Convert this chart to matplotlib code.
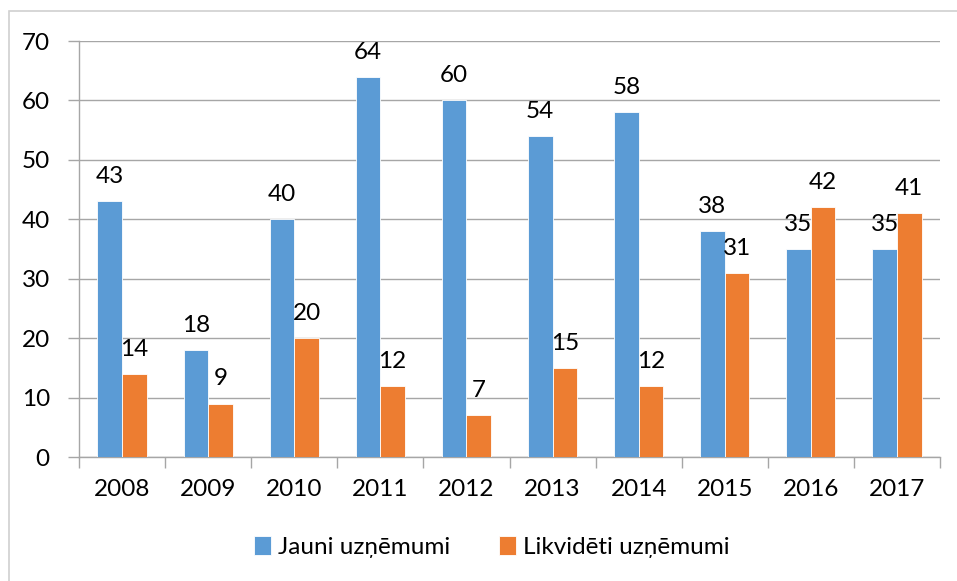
import numpy as np
import matplotlib.pyplot as plt
from matplotlib.patches import Rectangle

# Dati
years = ['2008', '2009', '2010', '2011', '2012', '2013', '2014', '2015', '2016', '2017']
jauni = [43, 18, 40, 64, 60, 54, 58, 38, 35, 35]
likvideti = [14, 9, 20, 12, 7, 15, 12, 31, 42, 41]
series_names = ['Jauni uzņēmumi', 'Likvidēti uzņēmumi']

plt.rcParams['font.family'] = ['Lato', 'DejaVu Sans']
grid_col = '#A6A6A6'
fs = 17.5

fig = plt.figure(figsize=(9.57, 5.81), dpi=100)
ax = fig.add_axes([79 / 957, 1 - 457 / 581, (940 - 79) / 957, (457 - 41) / 581])

# ramis ap visu diagrammu
fig.patches.append(Rectangle((9 / 957, -0.1), 1.2, 1.1 - 11 / 581, transform=fig.transFigure,
                             fill=False, edgecolor='#D0D0D0', linewidth=1.2))

x = np.arange(len(years))
w = 1 / 3.5
b1 = ax.bar(x - w / 2, jauni, w, color='#5B9BD5', edgecolor='white', linewidth=0.6,
            label=series_names[0], zorder=3)
b2 = ax.bar(x + w / 2, likvideti, w, color='#ED7D31', edgecolor='white', linewidth=0.6,
            label=series_names[1], zorder=3)

for bars in (b1, b2):
    for r in bars:
        ax.annotate(f'{int(r.get_height())}', (r.get_x() + r.get_width() / 2, r.get_height()),
                    xytext=(0, 13), textcoords='offset points', ha='center', va='baseline',
                    fontsize=fs, color='black')

ax.set_xlim(-0.5, len(years) - 0.5)
ax.set_ylim(0, 70)
ax.set_yticks(range(0, 71, 10))
ax.yaxis.grid(True, color=grid_col, linewidth=1, zorder=0)

ax.set_xticks(x)
ax.set_xticklabels(years)
ax.set_xticks(np.arange(-0.5, len(years)), minor=True)
ax.tick_params(axis='x', which='major', length=0, pad=16, labelsize=fs)
ax.tick_params(axis='x', which='minor', length=8, color=grid_col, width=1)
ax.tick_params(axis='y', length=8, color=grid_col, width=1, pad=13, labelsize=fs)

for s in ['top', 'right']:
    ax.spines[s].set_visible(False)
for s in ['left', 'bottom']:
    ax.spines[s].set_color(grid_col)
    ax.spines[s].set_linewidth(1)

fig.legend(handles=[b1, b2], loc='center', bbox_to_anchor=(492 / 957, 1 - 547 / 581),
           ncol=2, frameon=False, fontsize=fs, handlelength=0.7, handleheight=0.8,
           handletextpad=0.3, columnspacing=2.0)

fig.savefig('out.png', dpi=100)
